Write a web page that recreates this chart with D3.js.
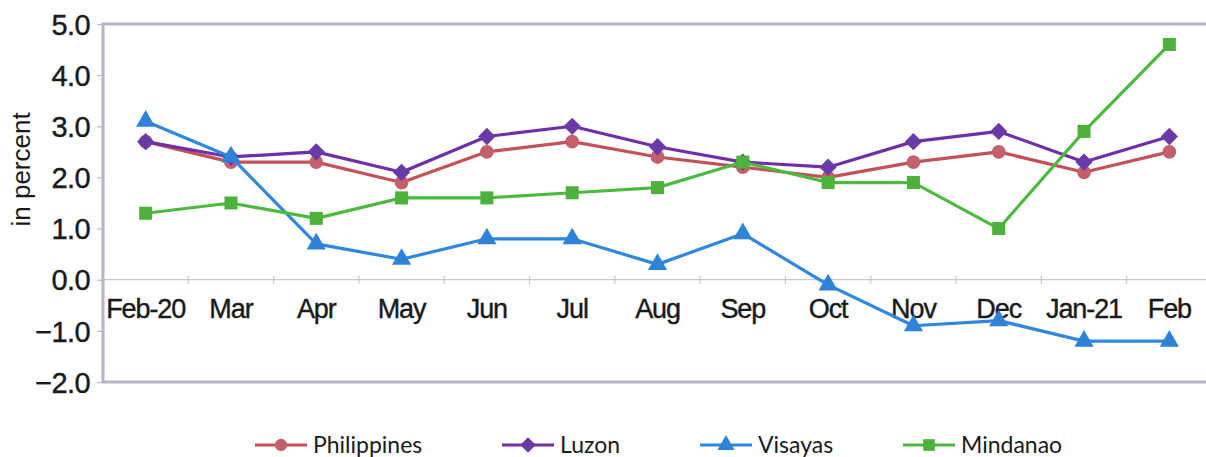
<!DOCTYPE html>
<html>
<head>
<meta charset="utf-8">
<script src="https://cdn.jsdelivr.net/npm/d3@7"></script>
<style>
  html, body { margin: 0; padding: 0; background: #ffffff; }
  svg { display: block; }
</style>
</head>
<body>
<svg id="chart" width="1206" height="457"></svg>
<script>
const categories = ["Feb-20","Mar","Apr","May","Jun","Jul","Aug","Sep","Oct","Nov","Dec","Jan-21","Feb"];
const philippines = [2.7,2.3,2.3,1.9,2.5,2.7,2.4,2.2,2.0,2.3,2.5,2.1,2.5];
const luzon       = [2.7,2.4,2.5,2.1,2.8,3.0,2.6,2.3,2.2,2.7,2.9,2.3,2.8];
const visayas     = [3.1,2.4,0.7,0.4,0.8,0.8,0.3,0.9,-0.1,-0.9,-0.8,-1.2,-1.2];
const mindanao    = [1.3,1.5,1.2,1.6,1.6,1.7,1.8,2.3,1.9,1.9,1.0,2.9,4.6];
const yTicks = [-2,-1,0,1,2,3,4,5];
const seriesNames = ["Philippines","Luzon","Visayas","Mindanao"];

const series = [
  {name: seriesNames[0], values: philippines, line: "#c4505a", fill: "#c3606c", shape: d3.symbolCircle, size: 150, rot: 0},
  {name: seriesNames[1], values: luzon, line: "#6f2fa8", fill: "#6a3aa6", shape: d3.symbolSquare, size: 150, rot: 45},
  {name: seriesNames[2], values: visayas, line: "#2f88e0", fill: "#2f82da", shape: d3.symbolTriangle, size: 160, rot: 0},
  {name: seriesNames[3], values: mindanao, line: "#4cba3e", fill: "#4db23c", shape: d3.symbolSquare, size: 170, rot: 0}
];

const svg = d3.select("#chart");
const L = 103, R = 1212, T = 24, B = 382;

const x = d3.scaleBand().domain(categories).range([L, R]).padding(0);
const y = d3.scaleLinear().domain([-2, 5]).range([B, T]);
const cx = d => x(d) + x.bandwidth() / 2;

// zero line
svg.append("line")
  .attr("x1", L).attr("x2", R).attr("y1", y(0)).attr("y2", y(0))
  .attr("stroke", "#c6c8d8").attr("stroke-width", 1.2);
svg.append("g").selectAll("line")
  .data(categories.slice(1))
  .join("line")
  .attr("x1", d => x(d)).attr("x2", d => x(d))
  .attr("y1", y(0) - 4).attr("y2", y(0) + 4)
  .attr("stroke", "#c6c8d8").attr("stroke-width", 1.2);

// y axis
const yAxis = d3.axisLeft(y).tickValues(yTicks).tickFormat(d3.format(".1f")).tickSize(6).tickPadding(7);
const gy = svg.append("g").attr("transform", `translate(${L},0)`).call(yAxis);
gy.select(".domain").remove();
gy.selectAll(".tick line").attr("stroke", "#b8bacb").attr("stroke-width", 1.2);
gy.selectAll(".tick text")
  .attr("font-family", "Liberation Sans, Arial, sans-serif")
  .attr("font-size", 29).attr("fill", "#1a1a1a").attr("dy", "0.35em")
  .attr("stroke", "#1a1a1a").attr("stroke-width", 0.4)
  .style("letter-spacing", "-0.6px");

// x axis labels
const xAxis = d3.axisBottom(x).tickSize(0).tickPadding(19);
const gx = svg.append("g").attr("transform", `translate(0,${y(0)})`).call(xAxis);
gx.select(".domain").remove();
gx.selectAll(".tick text")
  .attr("font-family", "Liberation Sans, Arial, sans-serif")
  .attr("font-size", 27).attr("fill", "#1a1a1a")
  .attr("stroke", "#1a1a1a").attr("stroke-width", 0.4)
  .style("letter-spacing", "-1.1px");

// frame
svg.append("rect")
  .attr("x", L).attr("y", T).attr("width", R - L).attr("height", B - T)
  .attr("fill", "none").attr("stroke", "#b4b6c8").attr("stroke-width", 3);

// y title
svg.append("text")
  .attr("transform", `translate(30,${(y(3) + y(1)) / 2 - 8}) rotate(-90)`)
  .attr("text-anchor", "middle")
  .attr("font-family", "Liberation Sans, Arial, sans-serif")
  .attr("font-size", 26).attr("fill", "#1a1a1a")
  .text("in percent");

// series
const lineGen = d3.line().x((d, i) => cx(categories[i])).y(d => y(d));
series.forEach(s => {
  const g = svg.append("g");
  g.append("path").datum(s.values)
    .attr("d", lineGen).attr("fill", "none")
    .attr("stroke", s.line).attr("stroke-width", 3.2).attr("stroke-linejoin", "round");
  g.selectAll("path.m").data(s.values).join("path").attr("class", "m")
    .attr("transform", (d, i) => `translate(${cx(categories[i])},${y(d)}) rotate(${s.rot})`)
    .attr("d", d3.symbol().type(s.shape).size(s.size))
    .attr("fill", s.fill);
});

// legend
const legendX = [255, 502, 700, 903];
const legendY = 445;
const lg = svg.append("g");
series.forEach((s, i) => {
  const x0 = legendX[i];
  lg.append("line").attr("x1", x0).attr("x2", x0 + 52).attr("y1", legendY).attr("y2", legendY)
    .attr("stroke", s.line).attr("stroke-width", 3.2);
  lg.append("path").attr("transform", `translate(${x0 + 26},${legendY}) rotate(${s.rot})`)
    .attr("d", d3.symbol().type(s.shape).size(s.size * 0.8)).attr("fill", s.fill);
  lg.append("text").attr("x", x0 + 58).attr("y", legendY).attr("dy", "0.36em")
    .attr("font-family", "Lato, 'Open Sans', sans-serif").attr("font-size", 23)
    .attr("fill", "#1a1a1a").text(s.name);
});
</script>
</body>
</html>
